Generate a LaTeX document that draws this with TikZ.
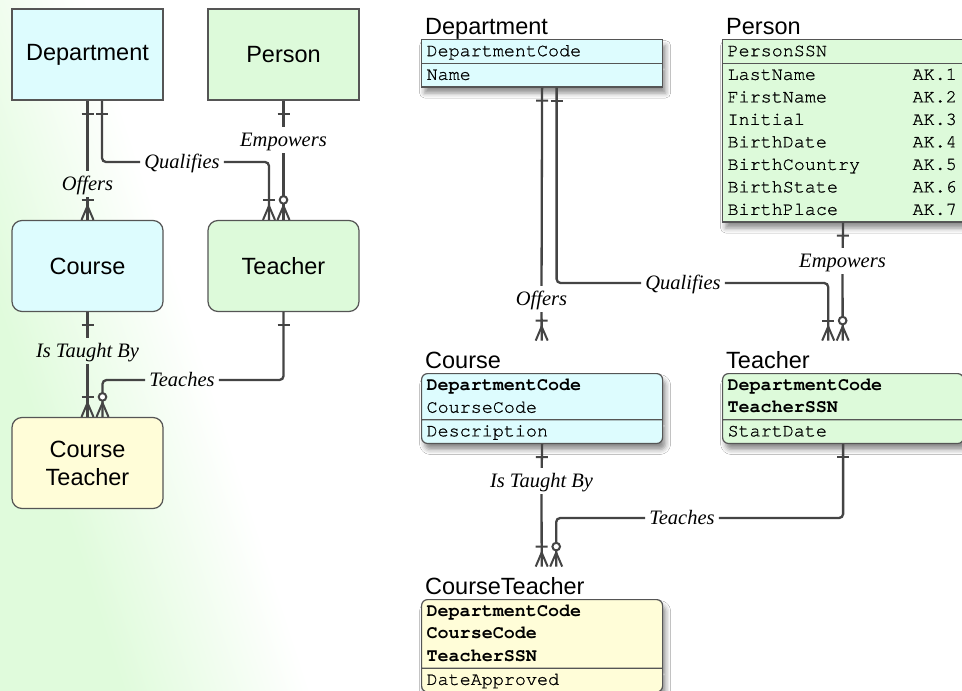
\documentclass[tikz,border=0pt]{standalone}
\usepackage{fontspec}
\setmainfont{Liberation Serif}
\setsansfont{Liberation Sans}
\setmonofont{texgyrecursor}[Extension=.otf, UprightFont=*-regular, BoldFont=*-bold, UprightFeatures={FakeBold=0.8}]
\usepackage{xcolor}
\usepackage{tikz}
\usetikzlibrary{shapes.multipart, positioning, calc, decorations.markings, shadows.blur}
\definecolor{deptCyan}{RGB}{221,252,254}
\definecolor{persGreen}{RGB}{221,250,218}
\definecolor{ctYellow}{RGB}{255,253,216}
\definecolor{boxGray}{RGB}{85,85,85}
\definecolor{connGray}{RGB}{68,68,68}
\definecolor{bgGreen}{RGB}{224,251,220}
\pgfdeclarehorizontalshading{bgfade}{100bp}{color(0bp)=(bgGreen); color(25bp)=(bgGreen); color(35bp)=(white); color(100bp)=(white)}
\newcommand{\entfont}{\sffamily\fontsize{23.5}{28}\selectfont}
\newcommand{\lblfont}{\rmfamily\itshape\fontsize{20.5}{24}\selectfont}
\newcommand{\attrfont}{\ttfamily\fontsize{18.4}{22.5}\selectfont}
\newcommand{\row}[1]{\rule[-6.5pt]{0pt}{22.5pt}#1}
\newcommand{\ak}[1]{\makebox[185pt][l]{#1}}
\tikzstyle{indep} = [rectangle, draw=boxGray, line width=1.2pt, minimum width=151pt, minimum height=91pt, font=\entfont, align=center]
\tikzstyle{dep} = [indep, rounded corners=10pt]
\tikzstyle{attrtab} = [rectangle split, rectangle split parts=2, anchor=north west, draw=boxGray, line width=1.2pt, text width=231pt, inner xsep=5pt, inner ysep=0pt, align=left, font=\attrfont, blur shadow={shadow xshift=3pt, shadow yshift=-6pt, shadow blur radius=5pt, shadow opacity=45}]
\tikzstyle{ttl} = [anchor=south west, font=\entfont, inner xsep=4pt, inner ysep=0pt, text width=233pt, text height=28pt, text depth=4pt, align=left]
\tikzstyle{rel} = [font=\lblfont, inner xsep=4pt, inner ysep=2pt, text height=17pt, text depth=5pt]
\tikzstyle{conn} = [line width=2.3pt, draw=connGray, rounded corners=4pt]
\tikzstyle{tipline} = [line width=2pt, draw=connGray, sharp corners]
\tikzset{
  onestart/.style={postaction={decorate, decoration={markings,
    mark=at position 13pt with {\draw[tipline] (0,-6pt) -- (0,6pt);}}}},
  manyend/.style={postaction={decorate, decoration={markings,
    mark=at position -20pt with {\draw[tipline] (0,-6pt) -- (0,6pt);},
    mark=at position -14pt with {\draw[tipline] (14pt,-6pt) -- (0,0) -- (14pt,6pt);}}}},
  zmanyend/.style={postaction={decorate, decoration={markings,
    mark=at position -14pt with {\draw[tipline] (14pt,-6pt) -- (0,0) -- (14pt,6pt);},
    mark=at position -20pt with {\draw[tipline, fill=white] (0,0) circle (3.8pt);}}}}
}
\begin{document}
\begin{tikzpicture}[x=1pt, y=-1pt]
    % Background glow
    \useasboundingbox (0,0) rectangle (962,691);
    \shade[shading=bgfade, shading angle=18] (0,0) rectangle (962,691);

    % Entities - overview
    \node[indep, fill=deptCyan] (dept) at (87.5,54.5) {Department};
    \node[indep, fill=persGreen] (person) at (283.5,54.5) {Person};
    \node[dep, fill=deptCyan] (course) at (87.5,266) {Course};
    \node[dep, fill=persGreen] (teacher) at (283.5,266) {Teacher};
    \node[dep, fill=ctYellow] (courseTeacher) at (87.5,463) {Course\\Teacher};

    % Relationship names - overview
    \node[rel] (offersL) at (87.5,184) {Offers};
    \node[rel] (qualL) at (182,162) {Qualifies};
    \node[rel] (empL) at (283.5,140) {Empowers};
    \node[rel] (taughtL) at (87.5,351) {Is Taught By};
    \node[rel] (teachL) at (182,380) {Teaches};

    % Relationships - overview
    \draw[conn, onestart] (dept.south) -- (offersL);
    \draw[conn, manyend] (offersL) -- (course.north);
    \draw[conn, onestart] ([xshift=14.5pt]dept.south) |- (qualL.west);
    \draw[conn, manyend] (qualL.east) -| ([xshift=-14.5pt]teacher.north);
    \draw[conn, onestart] (person.south) -- (empL);
    \draw[conn, zmanyend] (empL) -- (teacher.north);
    \draw[conn, onestart] (course.south) -- (taughtL);
    \draw[conn, manyend] (taughtL) -- (courseTeacher.north);
    \draw[conn, onestart] (teacher.south) |- (teachL.east);
    \draw[conn, zmanyend] (teachL.west) -| ([xshift=15pt]courseTeacher.north);

    % Entities - attributes
    \node[attrtab, fill=deptCyan] (deptTab) at (421,39) {\row{DepartmentCode}\nodepart{two}\row{Name}};
    \node[ttl] (deptTtl) at (deptTab.north west) {Department};
    \node[attrtab, fill=persGreen] (personTab) at (722,39) {\row{PersonSSN}\nodepart{two}\row{\ak{LastName}AK.1}\\\row{\ak{FirstName}AK.2}\\\row{\ak{Initial}AK.3}\\\row{\ak{BirthDate}AK.4}\\\row{\ak{BirthCountry}AK.5}\\\row{\ak{BirthState}AK.6}\\\row{\ak{BirthPlace}AK.7}};
    \node[ttl] (personTtl) at (personTab.north west) {Person};
    \node[attrtab, rounded corners=6pt, fill=deptCyan] (courseTab) at (421,373) {\row{\textbf{DepartmentCode}}\\\row{CourseCode}\nodepart{two}\row{Description}};
    \node[ttl] (courseTtl) at (courseTab.north west) {Course};
    \node[attrtab, rounded corners=6pt, fill=persGreen] (teacherTab) at (722,373) {\row{\textbf{DepartmentCode}}\\\row{\textbf{TeacherSSN}}\nodepart{two}\row{StartDate}};
    \node[ttl] (teacherTtl) at (teacherTab.north west) {Teacher};
    \node[attrtab, rounded corners=6pt, fill=ctYellow] (ctTab) at (421,599) {\row{\textbf{DepartmentCode}}\\\row{\textbf{CourseCode}}\\\row{\textbf{TeacherSSN}}\nodepart{two}\row{DateApproved}};
    \node[ttl] (ctTtl) at (ctTab.north west) {CourseTeacher};

    % Relationship names - attributes
    \node[rel] (offersR) at (541.5,299) {Offers};
    \node[rel] (qualR) at (683,283) {Qualifies};
    \node[rel] (empR) at (842.5,261) {Empowers};
    \node[rel] (taughtR) at (541.5,481) {Is Taught By};
    \node[rel] (teachR) at (682,518) {Teaches};

    % Relationships - attributes
    \draw[conn, onestart] (deptTab.south) -- (offersR);
    \draw[conn, manyend] (offersR) -- (courseTtl.north);
    \draw[conn, onestart] ([xshift=14.5pt]deptTab.south) |- (qualR.west);
    \draw[conn, manyend] (qualR.east) -| ([xshift=-14.5pt]teacherTtl.north);
    \draw[conn, onestart] (personTab.south) -- (empR);
    \draw[conn, zmanyend] (empR) -- (teacherTtl.north);
    \draw[conn, onestart] (courseTab.south) -- (taughtR);
    \draw[conn, manyend] (taughtR) -- (ctTtl.north);
    \draw[conn, onestart] (teacherTab.south) |- (teachR.east);
    \draw[conn, zmanyend] (teachR.west) -| ([xshift=14.5pt]ctTtl.north);
\end{tikzpicture}
\end{document}
